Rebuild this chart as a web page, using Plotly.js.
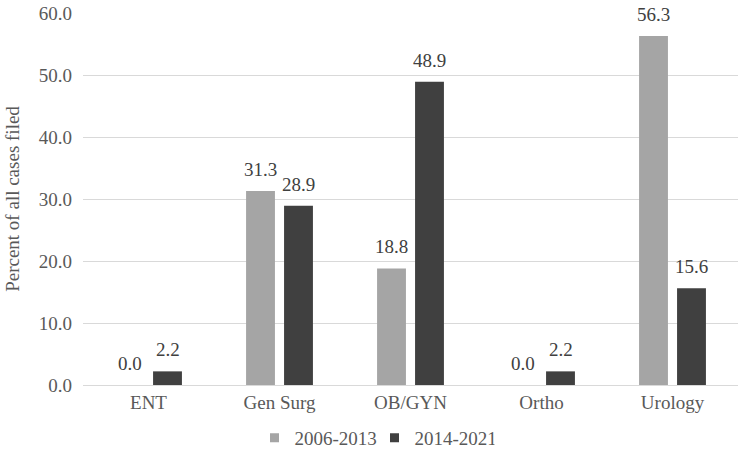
<!DOCTYPE html>
<html>
<head>
<meta charset="utf-8">
<script src="https://cdn.plot.ly/plotly-3.0.1.min.js"></script>
<style>html,body{margin:0;padding:0;background:#fff;}#chart{width:749px;height:457px;}</style>
</head>
<body>
<div id="chart"></div>
<script>
const categories = ["ENT", "Gen Surg", "OB/GYN", "Ortho", "Urology"];
const series1Name = "2006-2013";
const series1 = [0.0, 31.3, 18.8, 0.0, 56.3];
const series2Name = "2014-2021";
const series2 = [2.2, 28.9, 48.9, 2.2, 15.6];
const yTicks = [0, 10, 20, 30, 40, 50, 60];
const colors = ["#A5A5A5", "#404040"];

const fontFam = "'Liberation Serif', serif";
const BARGAP = 0.42;
const halfSlot = (1 - BARGAP) / 4; // center offset of each bar in a group (category units)

const traces = [
  {type: "bar", name: series1Name, x: categories, y: series1,
   marker: {color: colors[0]}, showlegend: false},
  {type: "bar", name: series2Name, x: categories, y: series2,
   marker: {color: colors[1]}, showlegend: false},
  // legend-only entries with small square swatches
  {type: "scatter", mode: "markers", name: series1Name, x: [categories[0]], y: [null],
   marker: {symbol: "square", size: 9, color: colors[0]}, showlegend: true},
  {type: "scatter", mode: "markers", name: series2Name, x: [categories[0]], y: [null],
   marker: {symbol: "square", size: 9, color: colors[1]}, showlegend: true}
];

const annotations = [];
[series1, series2].forEach((s, k) => {
  s.forEach((v, i) => {
    annotations.push({
      x: i + (k === 0 ? -halfSlot : halfSlot), y: v, xref: "x", yref: "y",
      text: v.toFixed(1), showarrow: false, yanchor: "bottom", xanchor: "center",
      yshift: 9,
      font: {family: fontFam, size: 19, color: "#404040"}
    });
  });
});

const layout = {
  width: 749, height: 457,
  margin: {l: 83, r: 11, t: 13, b: 72, autoexpand: false},
  paper_bgcolor: "#fff", plot_bgcolor: "#fff",
  font: {family: fontFam, size: 19, color: "#595959"},
  barmode: "group", bargap: BARGAP, bargroupgap: 0.24,
  showlegend: true,
  legend: {orientation: "h", xref: "container", x: 0.5, xanchor: "center",
           yref: "container", y: 0.0, yanchor: "bottom",
           font: {family: fontFam, size: 19, color: "#595959"}, itemwidth: 30,
           entrywidth: 75, entrywidthmode: "pixels", tracegroupgap: 0},
  annotations: annotations,
  xaxis: {showgrid: false, showline: true, linecolor: "#D9D9D9", linewidth: 1,
          ticks: "", tickfont: {family: fontFam, size: 19, color: "#595959"}},
  yaxis: {range: [0, 60], tickvals: yTicks, ticktext: yTicks.map(v => v.toFixed(1)),
          showgrid: true, gridcolor: "#D9D9D9", gridwidth: 1, zeroline: false,
          showline: false, ticks: "", ticklen: 0, ticklabelstandoff: 10,
          tickfont: {family: fontFam, size: 19, color: "#595959"},
          title: {text: "Percent of all cases filed", standoff: 14,
                  font: {family: fontFam, size: 19, color: "#595959"}}}
};
Plotly.newPlot("chart", traces, layout, {displayModeBar: false, staticPlot: true});
</script>
</body>
</html>
